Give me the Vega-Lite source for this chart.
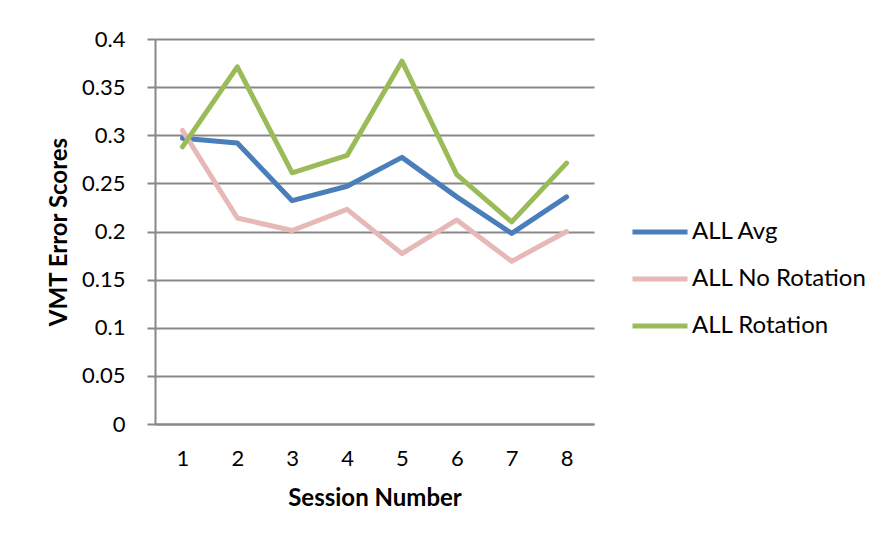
{
  "$schema": "https://vega.github.io/schema/vega-lite/v6.json",
  "width": 439,
  "height": 385,
  "autosize": {"type": "none"},
  "padding": {"left": 155, "top": 39, "right": 288, "bottom": 118},
  "background": "white",
  "data": {
    "values": [
      {"session": 1, "series": "ALL Avg", "value": 0.297},
      {"session": 2, "series": "ALL Avg", "value": 0.292},
      {"session": 3, "series": "ALL Avg", "value": 0.232},
      {"session": 4, "series": "ALL Avg", "value": 0.247},
      {"session": 5, "series": "ALL Avg", "value": 0.277},
      {"session": 6, "series": "ALL Avg", "value": 0.236},
      {"session": 7, "series": "ALL Avg", "value": 0.198},
      {"session": 8, "series": "ALL Avg", "value": 0.236},
      {"session": 1, "series": "ALL No Rotation", "value": 0.305},
      {"session": 2, "series": "ALL No Rotation", "value": 0.214},
      {"session": 3, "series": "ALL No Rotation", "value": 0.201},
      {"session": 4, "series": "ALL No Rotation", "value": 0.223},
      {"session": 5, "series": "ALL No Rotation", "value": 0.177},
      {"session": 6, "series": "ALL No Rotation", "value": 0.212},
      {"session": 7, "series": "ALL No Rotation", "value": 0.169},
      {"session": 8, "series": "ALL No Rotation", "value": 0.2},
      {"session": 1, "series": "ALL Rotation", "value": 0.288},
      {"session": 2, "series": "ALL Rotation", "value": 0.371},
      {"session": 3, "series": "ALL Rotation", "value": 0.261},
      {"session": 4, "series": "ALL Rotation", "value": 0.279},
      {"session": 5, "series": "ALL Rotation", "value": 0.377},
      {"session": 6, "series": "ALL Rotation", "value": 0.259},
      {"session": 7, "series": "ALL Rotation", "value": 0.21},
      {"session": 8, "series": "ALL Rotation", "value": 0.271}
    ]
  },
  "mark": {"type": "line", "strokeWidth": 5, "strokeJoin": "round", "strokeCap": "round"},
  "encoding": {
    "x": {
      "field": "session",
      "type": "ordinal",
      "title": "Session Number",
      "axis": {
        "labelAngle": 0,
        "ticks": false,
        "grid": false,
        "domainColor": "#888888",
        "domainWidth": 2,
        "labelFont": "Lato",
        "labelFontSize": 22,
        "labelColor": "#000000",
        "labelPadding": 24,
        "titleFont": "Lato",
        "titleFontSize": 24,
        "titleFontWeight": "bold",
        "titleColor": "#000000",
        "titlePadding": 17
      }
    },
    "y": {
      "field": "value",
      "type": "quantitative",
      "title": "VMT Error Scores",
      "scale": {"domain": [0, 0.4], "nice": false},
      "axis": {
        "values": [0, 0.05, 0.1, 0.15, 0.2, 0.25, 0.3, 0.35, 0.4],
        "format": ".2~f",
        "grid": true,
        "gridColor": "#888888",
        "gridWidth": 2,
        "domainColor": "#888888",
        "domainWidth": 2,
        "tickColor": "#888888",
        "tickWidth": 2,
        "tickSize": 8,
        "labelFont": "Lato",
        "labelFontSize": 22,
        "labelColor": "#000000",
        "labelPadding": 22,
        "titleFont": "Lato",
        "titleFontSize": 24,
        "titleFontWeight": "bold",
        "titleColor": "#000000",
        "titlePadding": 10
      }
    },
    "color": {
      "field": "series",
      "type": "nominal",
      "title": null,
      "scale": {
        "domain": ["ALL Avg", "ALL No Rotation", "ALL Rotation"],
        "range": ["#4A7EBB", "#E6B9B8", "#9BBB59"]
      },
      "legend": {
        "orient": "none",
        "legendX": 475,
        "legendY": 163,
        "symbolType": "stroke",
        "symbolSize": 3025,
        "symbolStrokeWidth": 5,
        "labelFont": "Lato",
        "labelFontSize": 24,
        "labelColor": "#000000",
        "labelOffset": 2,
        "labelLimit": 300,
        "rowPadding": 5
      }
    }
  },
  "config": {
    "view": {"stroke": null}
  }
}
